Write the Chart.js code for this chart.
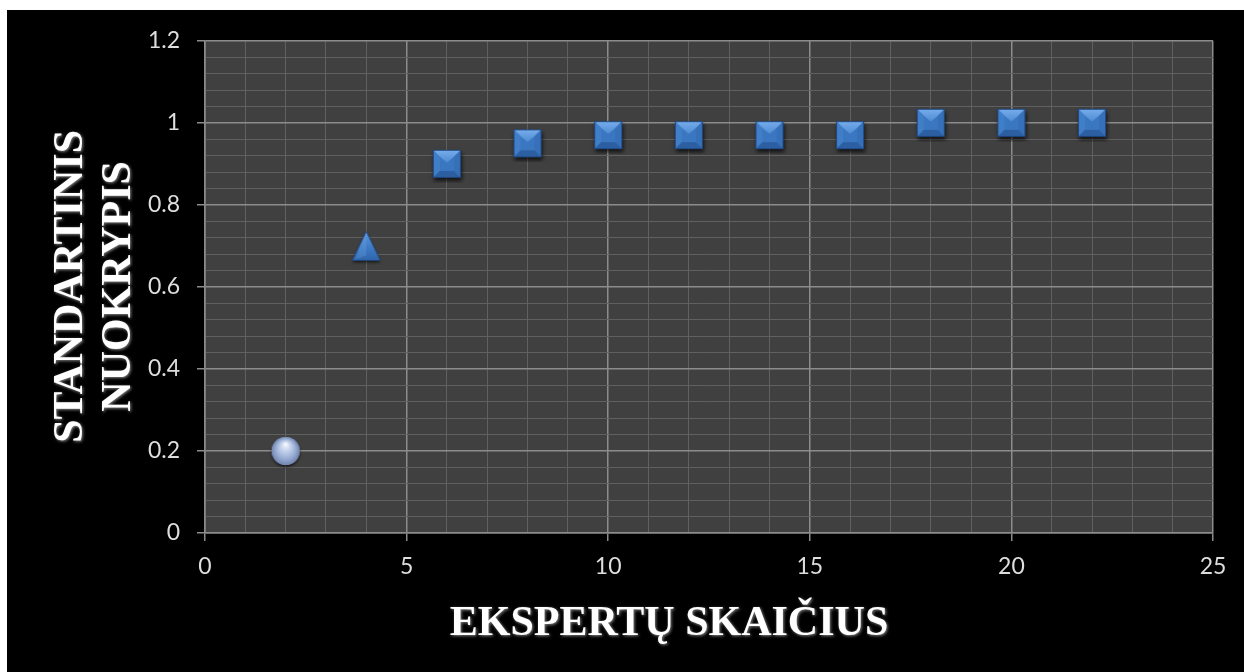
<!DOCTYPE html>
<html>
<head>
<meta charset="utf-8">
<script src="https://cdn.jsdelivr.net/npm/chart.js@4/dist/chart.umd.min.js"></script>
<style>
  html, body { margin: 0; padding: 0; background: #fff; width: 1244px; height: 672px; overflow: hidden; }
  #wrap { position: absolute; left: 7px; top: 10px; width: 1237px; height: 662px; background: #000; }
</style>
</head>
<body>
<div id="wrap"><canvas id="c"></canvas></div>
<script>
// Axis titles
const xTitle = 'EKSPERTŲ SKAIČIUS';
const yTitleLines = ['STANDARTINIS', 'NUOKRYPIS'];

// Labelled (major) tick values
const xTickLabels = [0, 5, 10, 15, 20, 25];
const yTickLabels = [0, 0.2, 0.4, 0.6, 0.8, 1, 1.2];

// Series
const sphereX = [2];
const sphereY = [0.2];
const triangleX = [4];
const triangleY = [0.7];
const squareX = [6, 8, 10, 12, 14, 16, 18, 20, 22];
const squareY = [0.9, 0.95, 0.97, 0.97, 0.97, 0.97, 1, 1, 1];

const toPoints = (xs, ys) => xs.map((x, i) => ({ x, y: ys[i] }));

// ---- marker images (3D-looking point styles) ----
function makeSquare() {
  const s = 28, pad = 5, n = s + pad * 2;
  const c = document.createElement('canvas');
  c.width = n; c.height = n;
  const g = c.getContext('2d');
  const x0 = pad, y0 = pad, x1 = pad + s, y1 = pad + s, b = 7;
  g.save();
  g.shadowColor = 'rgba(0,0,0,0.7)';
  g.shadowBlur = 4;
  g.shadowOffsetY = 3;
  g.shadowOffsetX = 1;
  g.fillStyle = '#3a74bd';
  g.fillRect(x0, y0, s, s);
  g.restore();
  const face = (pts, fill) => {
    g.beginPath();
    g.moveTo(pts[0][0], pts[0][1]);
    for (let i = 1; i < pts.length; i++) g.lineTo(pts[i][0], pts[i][1]);
    g.closePath();
    g.fillStyle = fill;
    g.fill();
  };
  const cx = (x0 + x1) / 2, cy = (y0 + y1) / 2;
  // top facet
  const topGrad = g.createLinearGradient(0, y0, 0, cy);
  topGrad.addColorStop(0, '#78aeec');
  topGrad.addColorStop(1, '#4b88d2');
  face([[x0, y0], [x1, y0], [x1 - b, y0 + b], [cx, cy - 1], [x0 + b, y0 + b]], topGrad);
  // left facet
  face([[x0, y0], [x0 + b, y0 + b], [x0 + b, y1 - b], [x0, y1]], '#417ec8');
  // right facet
  face([[x1, y0], [x1, y1], [x1 - b, y1 - b], [x1 - b, y0 + b]], '#3570b9');
  // centre
  face([[x0 + b, y0 + b], [cx, cy - 1], [x1 - b, y0 + b], [x1 - b, y1 - b], [x0 + b, y1 - b]], '#3b77c1');
  // bottom facet
  face([[x0, y1], [x0 + b, y1 - b], [x1 - b, y1 - b], [x1, y1]], '#2c5fa2');
  g.strokeStyle = 'rgba(30,70,130,0.9)';
  g.lineWidth = 1;
  g.strokeRect(x0 + 0.5, y0 + 0.5, s - 1, s - 1);
  return c;
}

function makeTriangle() {
  const n = 38;
  const c = document.createElement('canvas');
  c.width = n; c.height = n;
  const g = c.getContext('2d');
  const top = 4.5, bot = 33.5, l = 5, r = 33, mid = 19;
  g.save();
  g.shadowColor = 'rgba(0,0,0,0.6)';
  g.shadowBlur = 3;
  g.shadowOffsetY = 2;
  g.beginPath();
  g.moveTo(mid, top); g.lineTo(r, bot); g.lineTo(l, bot); g.closePath();
  const grad = g.createLinearGradient(0, top, 0, bot);
  grad.addColorStop(0, '#5c97dc');
  grad.addColorStop(0.6, '#3d79c3');
  grad.addColorStop(1, '#2f66ab');
  g.fillStyle = grad;
  g.fill();
  g.restore();
  // lighter left facet
  g.beginPath();
  g.moveTo(mid, top); g.lineTo(mid, bot - 5); g.lineTo(l + 3, bot - 1); g.closePath();
  g.fillStyle = 'rgba(120,170,230,0.25)';
  g.fill();
  g.beginPath();
  g.moveTo(mid, top); g.lineTo(r, bot); g.lineTo(l, bot); g.closePath();
  g.strokeStyle = 'rgba(30,70,130,0.8)';
  g.lineWidth = 1;
  g.stroke();
  return c;
}

function makeSphere() {
  const n = 36, r = 14, cx = n / 2, cy = n / 2;
  const c = document.createElement('canvas');
  c.width = n; c.height = n;
  const g = c.getContext('2d');
  g.save();
  g.shadowColor = 'rgba(0,0,0,0.6)';
  g.shadowBlur = 3;
  g.shadowOffsetY = 2;
  g.beginPath();
  g.arc(cx, cy, r, 0, Math.PI * 2);
  g.fillStyle = '#8ea4cc';
  g.fill();
  g.restore();
  const grad = g.createRadialGradient(cx, cy - 7, 0.5, cx, cy, r);
  grad.addColorStop(0, '#f4f8ff');
  grad.addColorStop(0.3, '#c8d5ee');
  grad.addColorStop(0.7, '#98acd3');
  grad.addColorStop(1, '#7186b0');
  g.beginPath();
  g.arc(cx, cy, r, 0, Math.PI * 2);
  g.fillStyle = grad;
  g.fill();
  return c;
}

const isMajorX = v => xTickLabels.some(t => Math.abs(t - v) < 1e-6);
const isMajorY = v => yTickLabels.some(t => Math.abs(t - v) < 1e-6);

const plotBackground = {
  id: 'plotBackground',
  beforeDraw(chart) {
    const { ctx, chartArea: a } = chart;
    ctx.save();
    ctx.fillStyle = '#404040';
    ctx.fillRect(a.left, a.top, a.right - a.left, a.bottom - a.top);
    ctx.restore();
  }
};

const axisTitles = {
  id: 'axisTitles',
  afterDraw(chart) {
    const { ctx, chartArea: a } = chart;
    ctx.save();
    ctx.font = 'bold 42px "Liberation Serif", "Times New Roman", serif';
    ctx.fillStyle = '#ffffff';
    ctx.shadowColor = 'rgba(150,150,150,0.9)';
    ctx.shadowBlur = 3;
    ctx.shadowOffsetX = 1;
    ctx.shadowOffsetY = 1;
    ctx.textAlign = 'center';
    ctx.textBaseline = 'alphabetic';
    ctx.fillText(xTitle, (a.left + a.right) / 2 - 40, a.bottom + 102);
    ctx.translate(75, (a.top + a.bottom) / 2 - 0.5);
    ctx.rotate(-Math.PI / 2);
    yTitleLines.forEach((line, i) => ctx.fillText(line, 0, i * 48));
    ctx.restore();
  }
};

const tickFont = { family: 'Lato', size: 23 };

new Chart(document.getElementById('c'), {
  type: 'scatter',
  data: {
    datasets: [
      { label: 'sphere', data: toPoints(sphereX, sphereY), pointStyle: makeSphere() },
      { label: 'triangle', data: toPoints(triangleX, triangleY), pointStyle: makeTriangle() },
      { label: 'square', data: toPoints(squareX, squareY), pointStyle: makeSquare() }
    ]
  },
  options: {
    responsive: true,
    maintainAspectRatio: false,
    animation: false,
    layout: { padding: { top: 30, right: 31, left: 0, bottom: 0 } },
    plugins: { legend: { display: false }, tooltip: { enabled: false } },
    scales: {
      x: {
        type: 'linear',
        min: 0,
        max: 25,
        afterFit(s) { s.height = 139; },
        ticks: {
          stepSize: 1,
          autoSkip: false,
          maxRotation: 0,
          padding: 12,
          color: '#dedede',
          font: tickFont,
          callback: v => (isMajorX(v) ? String(v) : '')
        },
        grid: {
          color: c => (isMajorX(c.tick.value) ? '#8c8c8c' : '#606060'),
          lineWidth: c => (isMajorX(c.tick.value) ? 1.5 : 1),
          tickColor: c => (isMajorX(c.tick.value) ? '#8c8c8c' : 'rgba(0,0,0,0)'),
          tickLength: 8,
          drawTicks: true
        },
        border: { display: true, color: '#8c8c8c', width: 1.5 }
      },
      y: {
        type: 'linear',
        min: 0,
        max: 1.2,
        afterFit(s) { s.width = 198; },
        ticks: {
          stepSize: 0.04,
          autoSkip: false,
          padding: 17,
          color: '#dedede',
          font: tickFont,
          callback: v => (isMajorY(v) ? String(Math.round(v * 10) / 10) : '')
        },
        grid: {
          color: c => (isMajorY(c.tick.value) ? '#8c8c8c' : '#606060'),
          lineWidth: c => (isMajorY(c.tick.value) ? 1.5 : 1),
          tickColor: c => (isMajorY(c.tick.value) ? '#8c8c8c' : 'rgba(0,0,0,0)'),
          tickLength: 8,
          drawTicks: true
        },
        border: { display: true, color: '#8c8c8c', width: 1.5 }
      }
    }
  },
  plugins: [plotBackground, axisTitles]
});
</script>
</body>
</html>
